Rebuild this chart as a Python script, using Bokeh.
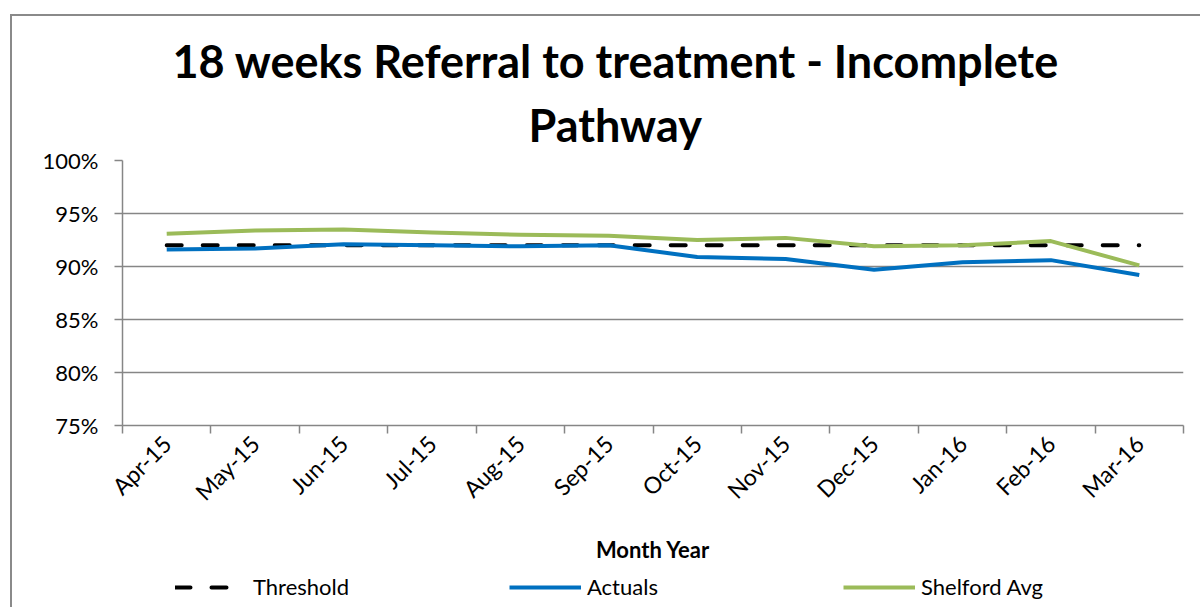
from math import pi
from bokeh.plotting import figure
from bokeh.layouts import column
from bokeh.models import (ColumnDataSource, Range1d, FixedTicker, PrintfTickFormatter,
                          Title, Legend, LegendItem)
from bokeh.embed import file_html
from bokeh.resources import INLINE

months = ["Apr-15", "May-15", "Jun-15", "Jul-15", "Aug-15", "Sep-15",
          "Oct-15", "Nov-15", "Dec-15", "Jan-16", "Feb-16", "Mar-16"]
threshold = [92, 92, 92, 92, 92, 92, 92, 92, 92, 92, 92, 92]
actuals = [91.6, 91.7, 92.1, 92.0, 91.9, 92.0, 90.9, 90.7, 89.7, 90.4, 90.6, 89.2]
shelford = [93.1, 93.4, 93.5, 93.2, 93.0, 92.9, 92.5, 92.7, 91.9, 92.0, 92.4, 90.1]
y_ticks = [75, 80, 85, 90, 95, 100]
series_names = ["Threshold", "Actuals", "Shelford Avg"]

xpos = [i + 0.5 for i in range(len(months))]
bounds = [float(i) for i in range(len(months) + 1)]
src = ColumnDataSource(dict(x=xpos, month=months, thr=threshold, act=actuals, shf=shelford))

FONT = "Lato"
GRAY = "#868686"
COLS = ["thr", "act", "shf"]
LINE_STYLES = [dict(line_color="black", line_width=4, line_dash="15 21", line_cap="round"),
               dict(line_color="#0070C0", line_width=4, line_join="round"),
               dict(line_color="#9BBB59", line_width=4, line_join="round")]

p = figure(width=1200, height=572, output_backend="svg", toolbar_location=None,
           x_range=Range1d(0, len(months)), y_range=Range1d(75, 100),
           min_border_left=122, min_border_right=17, min_border_top=160, min_border_bottom=147)
p.outline_line_color = None
p.background_fill_color = "white"
p.border_fill_color = None
p.styles = {
    "background-color": "white",
    "background-image": "linear-gradient(#8a8a8a, #8a8a8a), linear-gradient(#8a8a8a, #8a8a8a)",
    "background-size": "2px 100%, 100% 2px",
    "background-position": "10px 14px, 10px 14px",
    "background-repeat": "no-repeat",
}

# titles (first added = closest to frame)
t2 = Title(text="Pathway", align="left", offset=406, text_font=FONT,
           text_font_size="45px", text_font_style="bold", text_color="black", standoff=17)
t1 = Title(text="18 weeks Referral to treatment - Incomplete", align="left", offset=50,
           text_font=FONT, text_font_size="45px", text_font_style="bold",
           text_color="black", standoff=0)
p.add_layout(t2, "above")
p.add_layout(t1, "above")

# axes
p.xaxis.ticker = FixedTicker(ticks=xpos, minor_ticks=bounds)
p.xaxis.major_label_overrides = {x: m for x, m in zip(xpos, months)}
p.xaxis.major_label_orientation = pi / 4
p.xaxis.major_tick_line_color = None
p.xaxis.major_tick_out = 8
p.xaxis.minor_tick_line_color = GRAY
p.xaxis.minor_tick_line_width = 1.5
p.xaxis.minor_tick_out = 8
p.xaxis.minor_tick_in = 0
p.xaxis.axis_line_color = GRAY
p.xaxis.axis_line_width = 1.5
p.xaxis.major_label_text_font = FONT
p.xaxis.major_label_text_font_size = "23px"
p.xaxis.major_label_text_color = "black"
p.xaxis.major_label_standoff = 6
p.xaxis.axis_label = "Month Year"
p.xaxis.axis_label_text_font = FONT
p.xaxis.axis_label_text_font_size = "22px"
p.xaxis.axis_label_text_font_style = "bold"
p.xaxis.axis_label_text_color = "black"
p.xaxis.axis_label_standoff = 18

p.yaxis.ticker = FixedTicker(ticks=y_ticks)
p.yaxis.formatter = PrintfTickFormatter(format="%d%%")
p.yaxis.axis_line_color = GRAY
p.yaxis.axis_line_width = 1.5
p.yaxis.major_tick_line_color = GRAY
p.yaxis.major_tick_line_width = 1.5
p.yaxis.major_tick_out = 8
p.yaxis.major_tick_in = 0
p.yaxis.minor_tick_line_color = None
p.yaxis.major_label_text_font = FONT
p.yaxis.major_label_text_font_size = "22px"
p.yaxis.major_label_text_color = "black"
p.yaxis.major_label_standoff = 16

p.xgrid.grid_line_color = None
p.ygrid.grid_line_color = GRAY
p.ygrid.grid_line_width = 1.5

for col, style in zip(COLS, LINE_STYLES):
    p.line("x", col, source=src, **style)

# legend strip below the chart (separate figure so it is never clipped);
# its series lie outside this strip's ranges, so only the legend shows
leg = figure(width=1200, height=35, output_backend="svg", toolbar_location=None,
             x_range=Range1d(0, 1), y_range=Range1d(0, 1),
             min_border_left=0, min_border_right=0, min_border_top=0, min_border_bottom=0)
leg.outline_line_color = None
leg.background_fill_color = None
leg.border_fill_color = None
leg.xaxis.visible = False
leg.yaxis.visible = False
leg.grid.visible = False
leg.styles = {
    "background-color": "white",
    "background-image": "linear-gradient(#8a8a8a, #8a8a8a)",
    "background-size": "2px 100%",
    "background-position": "10px 0px",
    "background-repeat": "no-repeat",
}
items = []
for name, col, style in zip(series_names, COLS, LINE_STYLES):
    r = leg.line("x", col, source=src, **style)
    items.append(LegendItem(label=name, renderers=[r]))

legend = Legend(items=items, location=(53, 7), orientation="horizontal",
                glyph_width=72, glyph_height=20, label_standoff=6, label_width=209, spacing=47,
                padding=0, margin=0, border_line_color=None, background_fill_alpha=0,
                label_text_font=FONT, label_text_font_size="22px", label_text_color="black")
leg.add_layout(legend, "center")

layout = column(p, leg, spacing=0)
open("out.html", "w").write(file_html(layout, INLINE))
